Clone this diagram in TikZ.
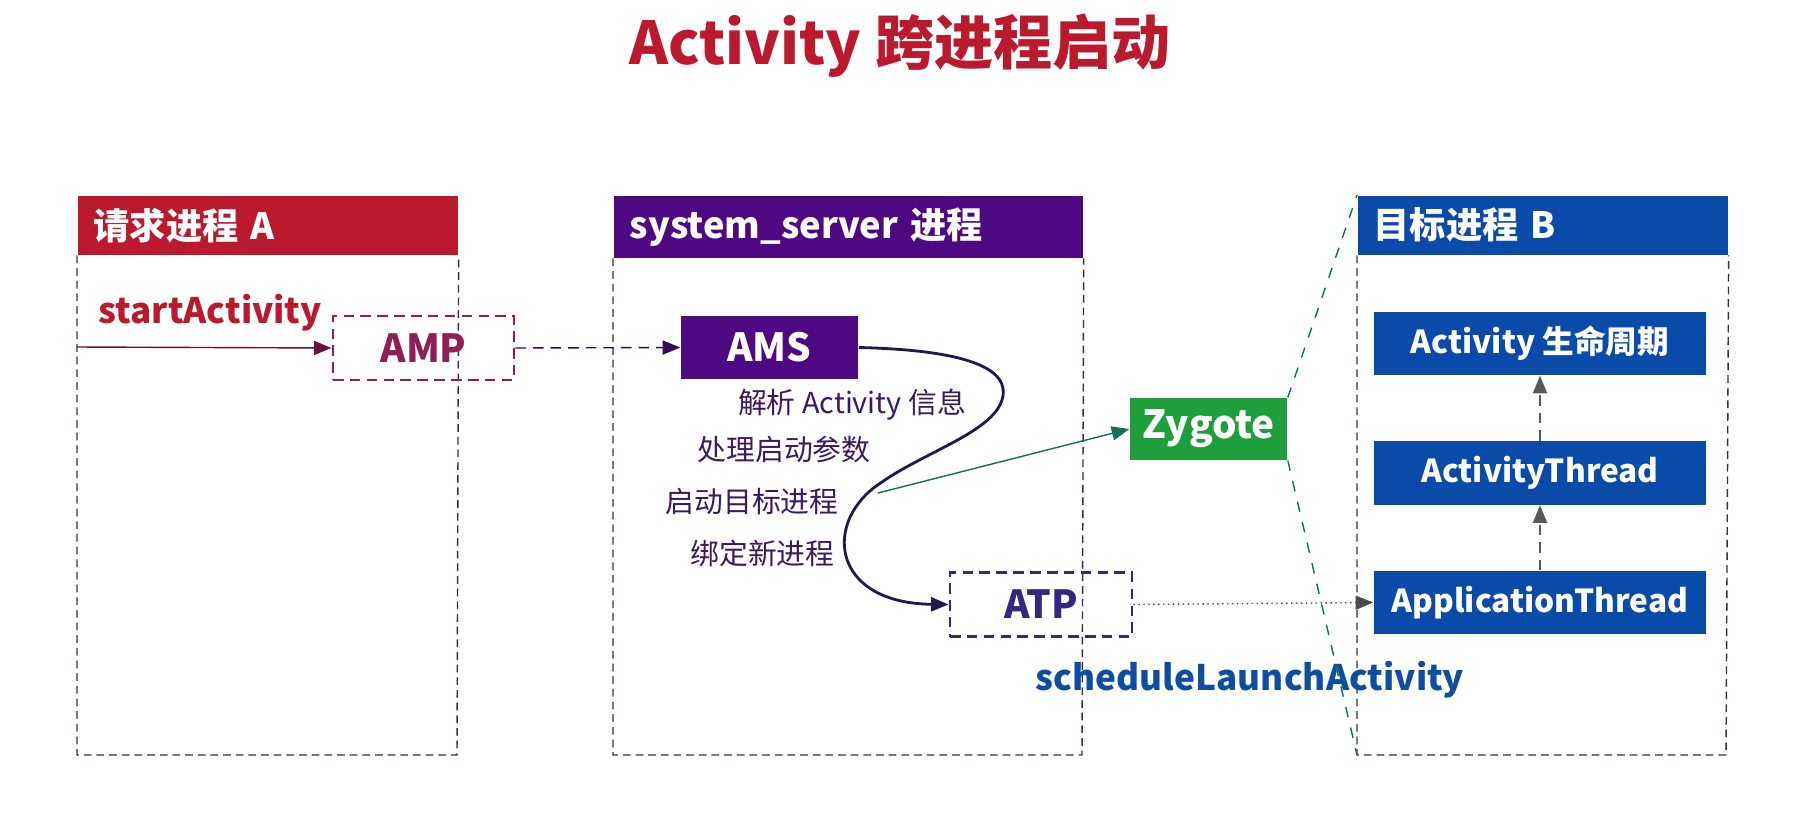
\documentclass[tikz,border=0pt]{standalone}
\usepackage{fontspec}
\setmainfont{Noto Sans CJK SC}
\usetikzlibrary{arrows.meta}

\definecolor{redA}{RGB}{187,26,46}
\definecolor{purpleS}{RGB}{78,8,130}
\definecolor{blueB}{RGB}{10,74,168}
\definecolor{greenZ}{RGB}{30,158,60}
\definecolor{ampC}{RGB}{145,30,85}
\definecolor{atpC}{RGB}{50,40,125}
\definecolor{labelC}{RGB}{62,25,92}
\definecolor{frameC}{RGB}{55,45,78}
\definecolor{schedC}{RGB}{14,78,160}
\definecolor{curveC}{RGB}{35,25,72}
\definecolor{zlineC}{RGB}{20,110,90}

\begin{document}
\begin{tikzpicture}[
  x=0.01cm, y=-0.01cm,
  hdr/.style={anchor=north west, minimum height=0.59cm, inner xsep=0.16cm,
    align=left, text=white, font=\fontsize{10.3}{12}\selectfont\bfseries},
  frame/.style={thin, dash pattern=on 2.2pt off 1.4pt},
  fbox/.style={minimum height=0.63cm, text=white, font=\fontsize{11}{13}\selectfont\bfseries},
  innerbox/.style={fill=blueB, minimum width=3.32cm, minimum height=0.63cm,
    text=white, font=\fontsize{9}{11}\selectfont\bfseries},
  dbox/.style={thick, dash pattern=on 3pt off 1.8pt, minimum height=0.64cm,
    font=\fontsize{11}{13}\selectfont\bfseries},
  steplbl/.style={text=labelC, font=\fontsize{8.2}{10}\selectfont},
  calllbl/.style={font=\fontsize{10}{12}\selectfont\bfseries},
  flow/.style={-{Triangle[length=5pt,width=4pt]}},
]

%% ── Canvas ───────────────────────────────────────────────────────────────────
\fill[white] (0,0) rectangle (1798,818);
\useasboundingbox (0,0) rectangle (1798,818);

%% ── Title ────────────────────────────────────────────────────────────────────
\node[text=redA, font=\fontsize{16.8}{19}\selectfont\bfseries] (title) at (900,46)
  {Activity 跨进程启动};

%% ── Process frames ───────────────────────────────────────────────────────────
\node[hdr, fill=redA, text width=3.48cm] (hdrA) at (77,195) {请求进程 A};
\draw[frame, frameC] (hdrA.south west) -- (77,755) -- (457,755) -- (hdrA.south east);

\node[hdr, fill=purpleS, text width=4.37cm] (hdrS) at (613,195) {system\_server 进程};
\draw[frame, frameC] (hdrS.south west) -- (613,755) -- (1082,755) -- (hdrS.south east);

\node[hdr, fill=blueB, text width=3.38cm] (hdrB) at (1357,195) {目标进程 B};
\draw[frame, frameC] (hdrB.south west) -- (1357,755) -- (1726,755) -- (hdrB.south east);

%% ── Process A ────────────────────────────────────────────────────────────────
\node[calllbl, text=redA, anchor=west] (start) at (86,313) {startActivity};
\coordinate (startL) at (77,347);
\node[dbox, draw=ampC, text=ampC, minimum width=1.81cm] (amp) at (423.5,348) {AMP};

%% ── system_server ────────────────────────────────────────────────────────────
\node[fbox, fill=purpleS, minimum width=1.77cm] (ams) at (769.5,347.5) {AMS};
\node[steplbl] (parse)  at (852,405)   {解析 Activity 信息};
\node[steplbl] (args)   at (784,450)   {处理启动参数};
\node[steplbl] (launch) at (752,502)   {启动目标进程};
\node[steplbl] (bind)   at (762.5,553) {绑定新进程};
\node[dbox, draw=atpC, text=atpC, minimum width=1.82cm] (atp) at (1041,604.5) {ATP};
\node[calllbl, text=schedC] (sched) at (1250,680) {scheduleLaunchActivity};

%% ── Zygote ───────────────────────────────────────────────────────────────────
\node[fbox, fill=greenZ, minimum width=1.57cm, minimum height=0.6cm] (zygote) at (1208.5,429) {Zygote};

%% ── Target process B ─────────────────────────────────────────────────────────
\node[innerbox] (life)   at (1540,343.5) {Activity 生命周期};
\node[innerbox] (thread) at (1540,473)   {ActivityThread};
\node[innerbox] (appth)  at (1540,602.5) {ApplicationThread};

%% ── Connectors ───────────────────────────────────────────────────────────────
\draw[flow, thin, ampC!70!black] (startL) -- (amp.west);
\draw[flow, thin, densely dashed, purpleS!70!black] (amp.east) -- (ams.west);

\draw[flow, thick, curveC] (ams.east)
  .. controls (965,350) and (1012,368) .. (1002,400)
  .. controls (992,432) and (925,452) .. (882,482)
  .. controls (822,520) and (830,603) .. (atp.west);

\coordinate (fork) at (878,493);
\draw[flow, thin, zlineC] (fork) -- (zygote.west);

\draw[flow, thin, densely dotted, gray!60!black] (atp.east) -- (appth.west);
\draw[flow, thin, densely dashed, gray!70!black] (appth.north) -- (thread.south);
\draw[flow, thin, densely dashed, gray!70!black] (thread.north) -- (life.south);

%% ── Zygote spawns B ──────────────────────────────────────────────────────────
\draw[thin, dashed, zlineC] (zygote.north east) -- (hdrB.north west);
\draw[thin, dashed, zlineC] (zygote.south east) -- (1357,755);

\end{tikzpicture}
\end{document}
